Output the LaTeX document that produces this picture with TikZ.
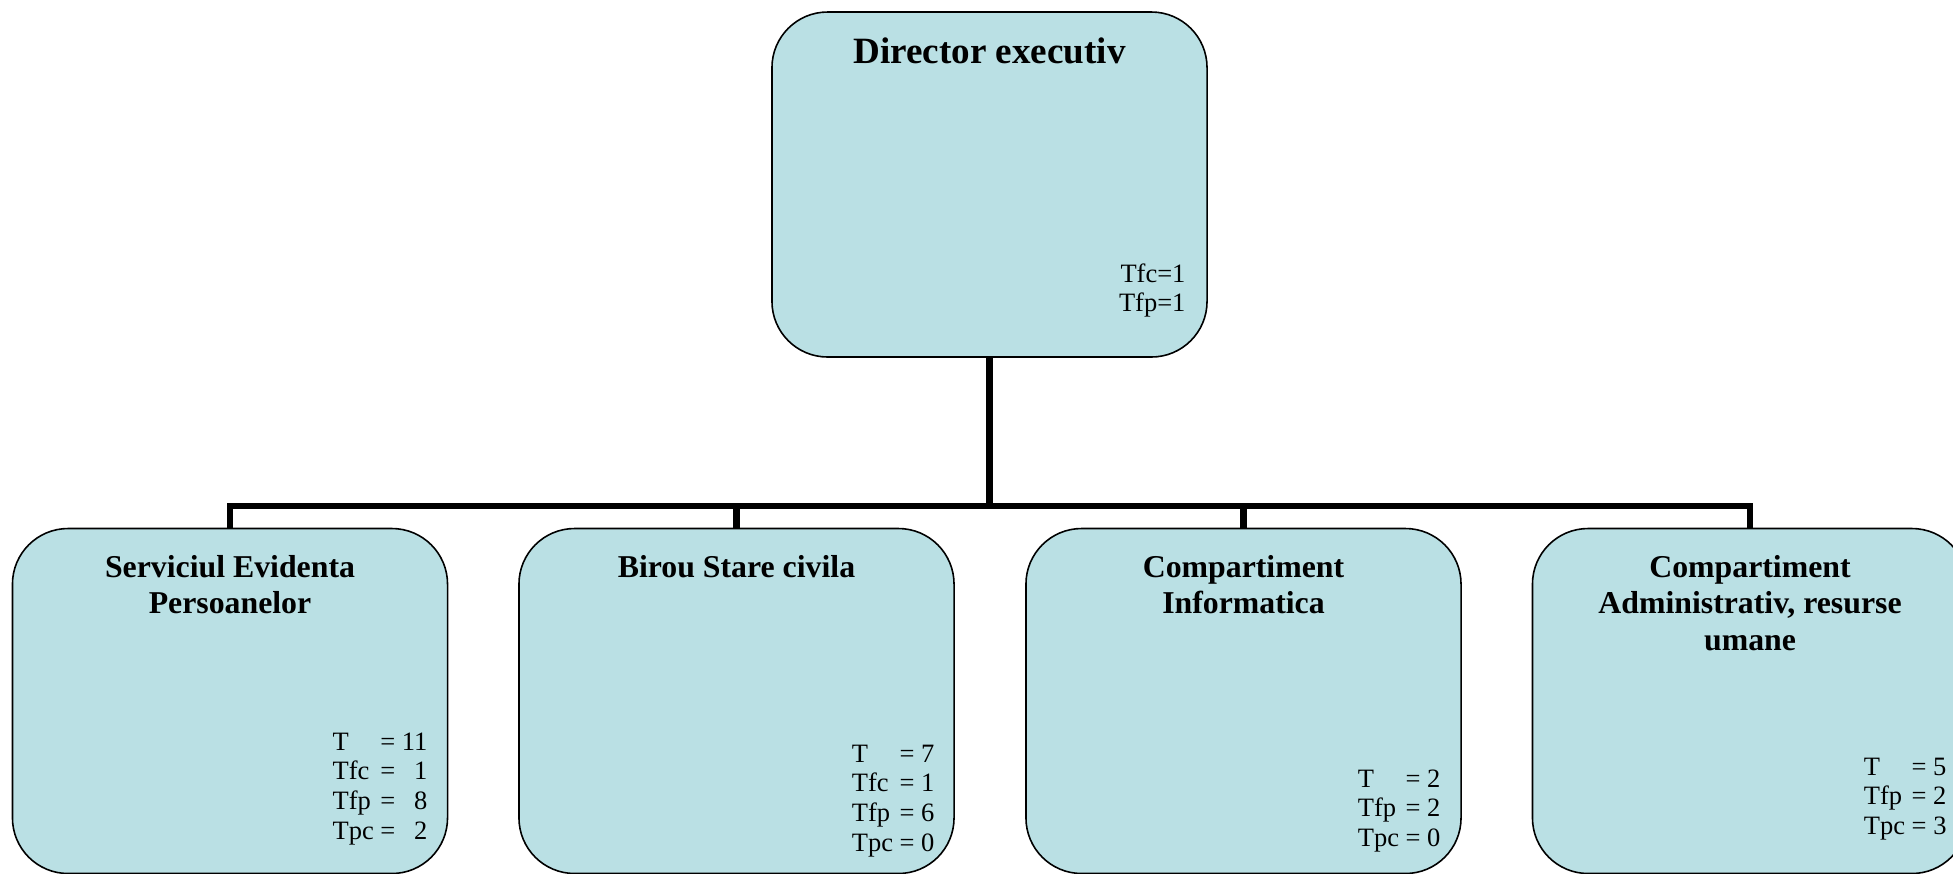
\documentclass[tikz,border=0pt]{standalone}
\usepackage{fontspec}
\setmainfont{Liberation Serif}
\usepackage{tikz}
\usetikzlibrary{positioning}
\definecolor{unitfill}{RGB}{186,224,228}
\tikzset{
  unitbox/.style={draw=black,line width=0.6pt,fill=unitfill,rounded corners=21pt,
    minimum width=164.2pt,minimum height=130.2pt,inner sep=0pt},
  unittitle/.style={anchor=base,inner sep=0pt,
    font=\fontsize{12}{13.8}\selectfont\bfseries},
  unitstats/.style={anchor=base east,inner sep=0pt,
    font=\fontsize{10}{11.3}\selectfont},
  orgline/.style={draw=black,line width=2.3pt}
}
\newcommand{\titletab}[1]{\begin{tabular}[t]{@{}c@{}}#1\end{tabular}}
\newcommand{\statstab}[1]{\begin{tabular}[t]{@{}l@{\ =\ }r@{}}#1\end{tabular}}
\begin{document}
\begin{tikzpicture}[x=0.3774pt,y=-0.3774pt]
  \useasboundingbox (0,0) rectangle (1953,873);
  \begin{scope}[every node/.style={unitbox}]
    \node (dir) at (989.5,184.5) {};
    \node (sep) at (230,701)     {};
    \node (bsc) at (736.5,701)   {};
    \node (ci)  at (1243.5,701)  {};
    \node (car) at (1750,701)    {};
  \end{scope}
  % titles
  \node[unittitle,font=\fontsize{14}{16}\selectfont\bfseries] (dirT) at (989.5,63) {Director executiv};
  \node[unittitle] (sepT) at (230,577)    {\titletab{Serviciul Evidenta\\Persoanelor}};
  \node[unittitle] (bscT) at (736.5,577)  {\titletab{Birou Stare civila}};
  \node[unittitle] (ciT)  at (1243.5,577) {\titletab{Compartiment\\Informatica}};
  \node[unittitle] (carT) at (1750,577)   {\titletab{Compartiment\\Administrativ, resurse\\umane}};
  % posturi
  \node[unitstats] (dirS) at (1186,282) {\begin{tabular}[t]{@{}r@{}}Tfc=1\\Tfp=1\end{tabular}};
  \node[unitstats] (sepS) at (428,750)  {\statstab{T & 11\\Tfc & 1\\Tfp & 8\\Tpc & 2}};
  \node[unitstats] (bscS) at (935,762)  {\statstab{T & 7\\Tfc & 1\\Tfp & 6\\Tpc & 0}};
  \node[unitstats] (ciS)  at (1441,787) {\statstab{T & 2\\Tfp & 2\\Tpc & 0}};
  \node[unitstats] (carS) at (1947,775) {\statstab{T & 5\\Tfp & 2\\Tpc & 3}};
  \coordinate (bus) at (989.5,506);
  \begin{scope}[every path/.style={orgline}]
    \draw (dir.south) -- (bus);
    \draw (sep.north) -- (sep.north |- bus) -- (car.north |- bus) -- (car.north);
    \foreach \u in {bsc,ci}
      \draw (\u.north) -- (\u.north |- bus);
  \end{scope}
\end{tikzpicture}
\end{document}
